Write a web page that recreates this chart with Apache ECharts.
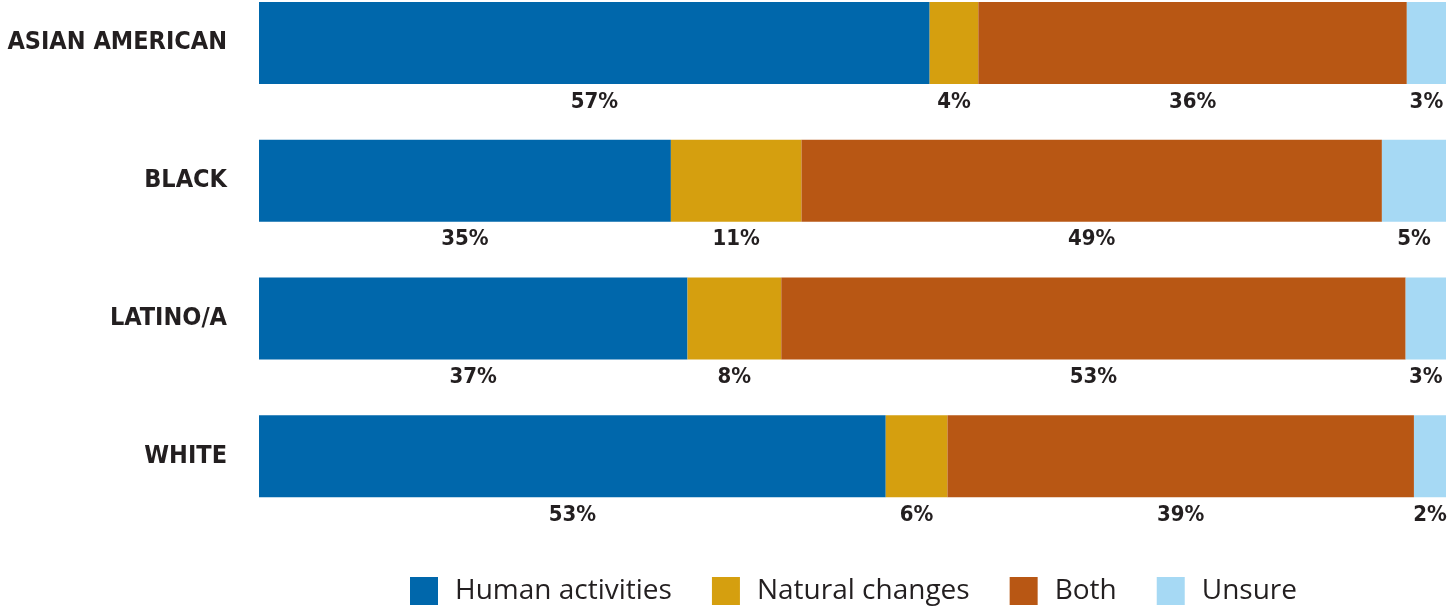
<!DOCTYPE html>
<html>
<head>
<meta charset="utf-8">
<script src="https://cdn.jsdelivr.net/npm/echarts@6/dist/echarts.min.js"></script>
<style>
html,body{margin:0;padding:0;background:#fff;}
#chart{width:1447px;height:608px;}
</style>
</head>
<body>
<div id="chart"></div>
<script>
// Categories (top to bottom)
const categories = ['ASIAN AMERICAN', 'BLACK', 'LATINO/A', 'WHITE'];
const seriesNames = ['Human activities', 'Natural changes', 'Both', 'Unsure'];
// Segment lengths (percent of each bar)
const humanValues   = [56.5, 34.7, 36.1, 52.8];
const naturalValues = [4.1, 11.0, 7.9, 5.2];
const bothValues    = [36.1, 48.9, 52.6, 39.3];
const unsureValues  = [3.3, 5.4, 3.4, 2.7];
// Printed labels
const humanLabels   = ['57%', '35%', '37%', '53%'];
const naturalLabels = ['4%', '11%', '8%', '6%'];
const bothLabels    = ['36%', '49%', '53%', '39%'];
const unsureLabels  = ['3%', '5%', '3%', '2%'];

const colors = ['#0067ab', '#d59f0f', '#b85714', '#a6d9f4'];
const condensed = '"Liberation Sans Narrow","DejaVu Sans Condensed",sans-serif';
const textColor = '#231f20';

const valueSets = [humanValues, naturalValues, bothValues, unsureValues];
const labelSets = [humanLabels, naturalLabels, bothLabels, unsureLabels];

const series = seriesNames.map((name, i) => ({
  name: name,
  type: 'bar',
  stack: 'total',
  barWidth: 82,
  itemStyle: { color: colors[i] },
  label: {
    show: true,
    position: 'bottom',
    distance: 7,
    formatter: p => labelSets[i][p.dataIndex],
    fontFamily: condensed,
    fontWeight: 'bold',
    fontSize: 22,
    color: textColor
  },
  emphasis: { disabled: true },
  data: valueSets[i]
}));

const chart = echarts.init(document.getElementById('chart'));
chart.setOption({
  animation: false,
  grid: { left: 259, right: 1, top: -26, height: 551, containLabel: false, outerBoundsMode: 'none' },
  xAxis: { type: 'value', min: 0, max: 100, show: false },
  yAxis: {
    type: 'category',
    data: categories,
    inverse: true,
    axisLine: { show: false },
    axisTick: { show: false },
    axisLabel: {
      margin: 32,
      fontFamily: condensed,
      fontWeight: 'bold',
      fontSize: 25,
      color: textColor
    }
  },
  legend: {
    data: seriesNames,
    left: 410,
    top: 577,
    padding: 0,
    icon: 'rect',
    itemWidth: 28,
    itemHeight: 28,
    itemGap: 40,
    textStyle: {
      fontFamily: '"Open Sans","Liberation Sans",Arial,sans-serif',
      fontSize: 28,
      color: textColor,
      padding: [0, 0, 0, 12]
    }
  },
  series: series
});
</script>
</body>
</html>
